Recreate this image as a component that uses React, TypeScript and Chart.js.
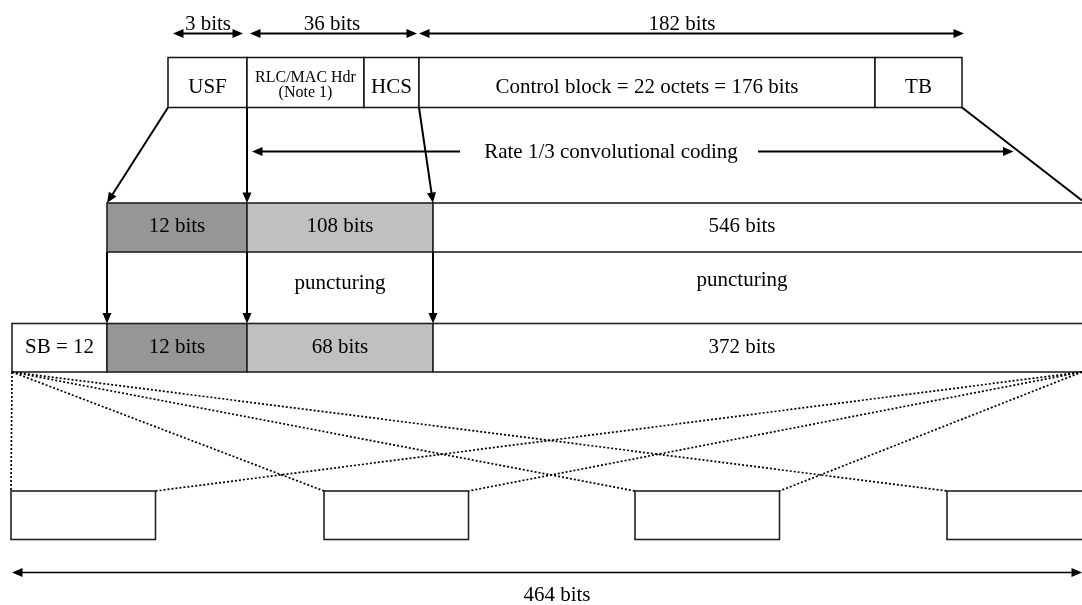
import React, { useEffect, useRef } from 'react';
import { Chart, registerables } from 'chart.js';

Chart.register(...registerables);

// ---------- data (texts / values) ----------
const dimLabels = ['3 bits', '36 bits', '182 bits'];
const headerLabels = ['USF', 'RLC/MAC Hdr', 'HCS', 'Control block = 22 octets = 176 bits', 'TB'];
const headerNote = '(Note 1)';
const codingLabel = 'Rate 1/3 convolutional coding';
const codedLabels = ['12 bits', '108 bits', '546 bits'];
const puncturingLabel = 'puncturing';
const punctLabels = ['SB = 12', '12 bits', '68 bits', '372 bits'];
const totalLabel = '464 bits';

// ---------- layout (diagram units on the hidden linear scales) ----------
const W = 1082;
const H = 605;
const FONT = '"Liberation Serif", "Times New Roman", serif';
const FS = 21;

const dimY = 33.5;
const dimSpans: [number, number][] = [[173, 243], [250, 417], [419, 964]];
const dimLabelX = [208, 332, 682];
const dimLabelY = 29.5;

const headerEdges = [168, 247, 364, 419, 875, 962];
const headerTop = 57.5;
const headerBottom = 107.5;
const headerBase = 93;

const codedEdges = [107, 247, 433, 1095];
const codedShades = ['#969696', '#c0c0c0', '#ffffff'];
const codedTop = 203;
const codedBottom = 252;
const codedBase = 232;

const punctEdges = [12, 107, 247, 433, 1095];
const punctShades = ['#ffffff', '#969696', '#c0c0c0', '#ffffff'];
const punctTop = 323.5;
const punctBottom = 372;
const punctBase = 352.5;

const wideLabelX = 742;
const puncturingPos: [number, number][] = [[340, 289], [742, 286]];

const burstLefts = [11, 324, 635, 947];
const burstWidth = 144.5;
const burstTop = 491;
const burstBottom = 539.5;

const totalY = 572.5;
const totalSpan: [number, number] = [12, 1082];
const totalLabelX = 557;
const totalLabelY = 601;

type Seg = { a: [number, number]; b: [number, number]; headA?: boolean; headB?: boolean; dotted?: boolean; w?: number };

const segments: Seg[] = [
  ...dimSpans.map(([s, e]) => ({ a: [s, dimY] as [number, number], b: [e, dimY] as [number, number], headA: true, headB: true, w: 2 })),
  { a: [headerEdges[0], headerBottom], b: [codedEdges[0], codedTop], headB: true, w: 2 },
  { a: [headerEdges[1], headerBottom], b: [codedEdges[1], codedTop], headB: true, w: 2 },
  { a: [headerEdges[3], headerBottom], b: [codedEdges[2], codedTop], headB: true, w: 2 },
  { a: [headerEdges[5], headerBottom], b: [1082, 200.5], w: 2 },
  { a: [460, 151.5], b: [252, 151.5], headB: true, w: 2 },
  { a: [758, 151.5], b: [1013.5, 151.5], headB: true, w: 2 },
  { a: [codedEdges[0], codedBottom], b: [punctEdges[1], punctTop], headB: true, w: 2 },
  { a: [codedEdges[1], codedBottom], b: [punctEdges[2], punctTop], headB: true, w: 2 },
  { a: [codedEdges[2], codedBottom], b: [punctEdges[3], punctTop], headB: true, w: 2 },
  // interleaving fan (dotted)
  ...burstLefts.map((bx) => ({ a: [punctEdges[0], punctBottom] as [number, number], b: [bx, burstTop] as [number, number], dotted: true, w: 1.7 })),
  ...burstLefts.slice(0, 3).map((bx) => ({ a: [1082, punctBottom] as [number, number], b: [bx + burstWidth, burstTop] as [number, number], dotted: true, w: 1.7 })),
  { a: [totalSpan[0], totalY], b: [totalSpan[1], totalY], headA: true, headB: true, w: 1.6 },
];

const HEAD_LEN = 10.5;
const HEAD_HALF = 4.5;

function shorten(p: [number, number], q: [number, number], d: number): [number, number] {
  const dx = q[0] - p[0];
  const dy = q[1] - p[1];
  const L = Math.hypot(dx, dy);
  return [q[0] - (dx / L) * d, q[1] - (dy / L) * d];
}

const diagramPlugin = {
  id: 'diagram',
  beforeDatasetsDraw(chart: any) {
    const { ctx } = chart;
    const xs = chart.scales.x;
    const ys = chart.scales.y;
    const X = (v: number) => xs.getPixelForValue(v);
    const Y = (v: number) => ys.getPixelForValue(v);
    ctx.save();
    const rect = (x0: number, x1: number, y0: number, y1: number, fill: string, stroke: string, lw: number) => {
      ctx.fillStyle = fill;
      ctx.fillRect(X(x0), Y(y0), X(x1) - X(x0), Y(y1) - Y(y0));
      ctx.strokeStyle = stroke;
      ctx.lineWidth = lw;
      ctx.strokeRect(X(x0), Y(y0), X(x1) - X(x0), Y(y1) - Y(y0));
    };
    for (let i = 0; i < headerEdges.length - 1; i++) rect(headerEdges[i], headerEdges[i + 1], headerTop, headerBottom, '#ffffff', '#111', 1.5);
    for (let i = 0; i < codedEdges.length - 1; i++) rect(codedEdges[i], codedEdges[i + 1], codedTop, codedBottom, codedShades[i], '#222', 1.6);
    for (let i = 0; i < punctEdges.length - 1; i++) rect(punctEdges[i], punctEdges[i + 1], punctTop, punctBottom, punctShades[i], '#222', 1.6);
    burstLefts.forEach((bx) => rect(bx, bx + burstWidth, burstTop, burstBottom, '#ffffff', '#222', 1.6));
    ctx.restore();
  },
  afterDatasetsDraw(chart: any) {
    const { ctx } = chart;
    const xs = chart.scales.x;
    const ys = chart.scales.y;
    const X = (v: number) => xs.getPixelForValue(v);
    const Y = (v: number) => ys.getPixelForValue(v);
    ctx.save();
    ctx.fillStyle = '#000';
    const head = (from: [number, number], tip: [number, number]) => {
      const tx = X(tip[0]);
      const ty = Y(tip[1]);
      const fx = X(from[0]);
      const fy = Y(from[1]);
      const dx = tx - fx;
      const dy = ty - fy;
      const L = Math.hypot(dx, dy);
      const ux = dx / L;
      const uy = dy / L;
      const bx = tx - ux * HEAD_LEN;
      const by = ty - uy * HEAD_LEN;
      ctx.beginPath();
      ctx.moveTo(tx, ty);
      ctx.lineTo(bx - uy * HEAD_HALF, by + ux * HEAD_HALF);
      ctx.lineTo(bx + uy * HEAD_HALF, by - ux * HEAD_HALF);
      ctx.closePath();
      ctx.fill();
    };
    segments.forEach((s) => {
      if (s.headB) head(s.a, s.b);
      if (s.headA) head(s.b, s.a);
    });
    ctx.fillStyle = '#000';
    ctx.textAlign = 'center';
    ctx.textBaseline = 'alphabetic';
    const text = (t: string, x: number, y: number, size: number) => {
      ctx.font = `${size}px ${FONT}`;
      ctx.fillText(t, X(x), Y(y));
    };
    dimLabels.forEach((t, i) => text(t, dimLabelX[i], dimLabelY, FS));
    headerLabels.forEach((t, i) => {
      const cx = (headerEdges[i] + headerEdges[i + 1]) / 2;
      if (i === 1) {
        text(t, cx, 81.5, 16);
        text(headerNote, cx, 97, 16);
      } else {
        text(t, cx, headerBase, FS);
      }
    });
    text(codingLabel, 611, 157.5, FS);
    codedLabels.forEach((t, i) => {
      const cx = i === codedLabels.length - 1 ? wideLabelX : (codedEdges[i] + codedEdges[i + 1]) / 2;
      text(t, cx, codedBase, FS);
    });
    puncturingPos.forEach(([px, py]) => text(puncturingLabel, px, py, FS));
    punctLabels.forEach((t, i) => {
      const cx = i === punctLabels.length - 1 ? wideLabelX : (punctEdges[i] + punctEdges[i + 1]) / 2;
      text(t, cx, punctBase, FS);
    });
    text(totalLabel, totalLabelX, totalLabelY, FS);
    ctx.restore();
  },
};

export default function App() {
  const ref = useRef<HTMLCanvasElement | null>(null);
  useEffect(() => {
    if (!ref.current) return;
    const datasets = segments.map((s) => {
      const a = s.headA ? shorten(s.b, s.a, HEAD_LEN - 1) : s.a;
      const b = s.headB ? shorten(s.a, s.b, HEAD_LEN - 1) : s.b;
      return {
        data: [{ x: a[0], y: a[1] }, { x: b[0], y: b[1] }],
        showLine: true,
        borderColor: '#000',
        borderWidth: s.w ?? 2,
        borderDash: s.dotted ? [2, 2] : [],
        pointRadius: 0,
        fill: false,
        tension: 0,
        clip: 2,
      };
    });
    const chart = new Chart(ref.current, {
      type: 'scatter',
      data: { datasets },
      options: {
        animation: false,
        responsive: false,
        devicePixelRatio: 1,
        layout: { padding: 0 },
        plugins: { legend: { display: false }, tooltip: { enabled: false } },
        events: [],
        scales: {
          x: { type: 'linear', min: 0, max: W, display: false },
          y: { type: 'linear', min: 0, max: H, reverse: true, display: false },
        },
      },
      plugins: [diagramPlugin],
    });
    return () => chart.destroy();
  }, []);
  return (
    <div style={{ position: 'absolute', left: 0, top: 0, width: W, height: H, background: '#fff' }}>
      <canvas ref={ref} width={W} height={H} />
    </div>
  );
}
